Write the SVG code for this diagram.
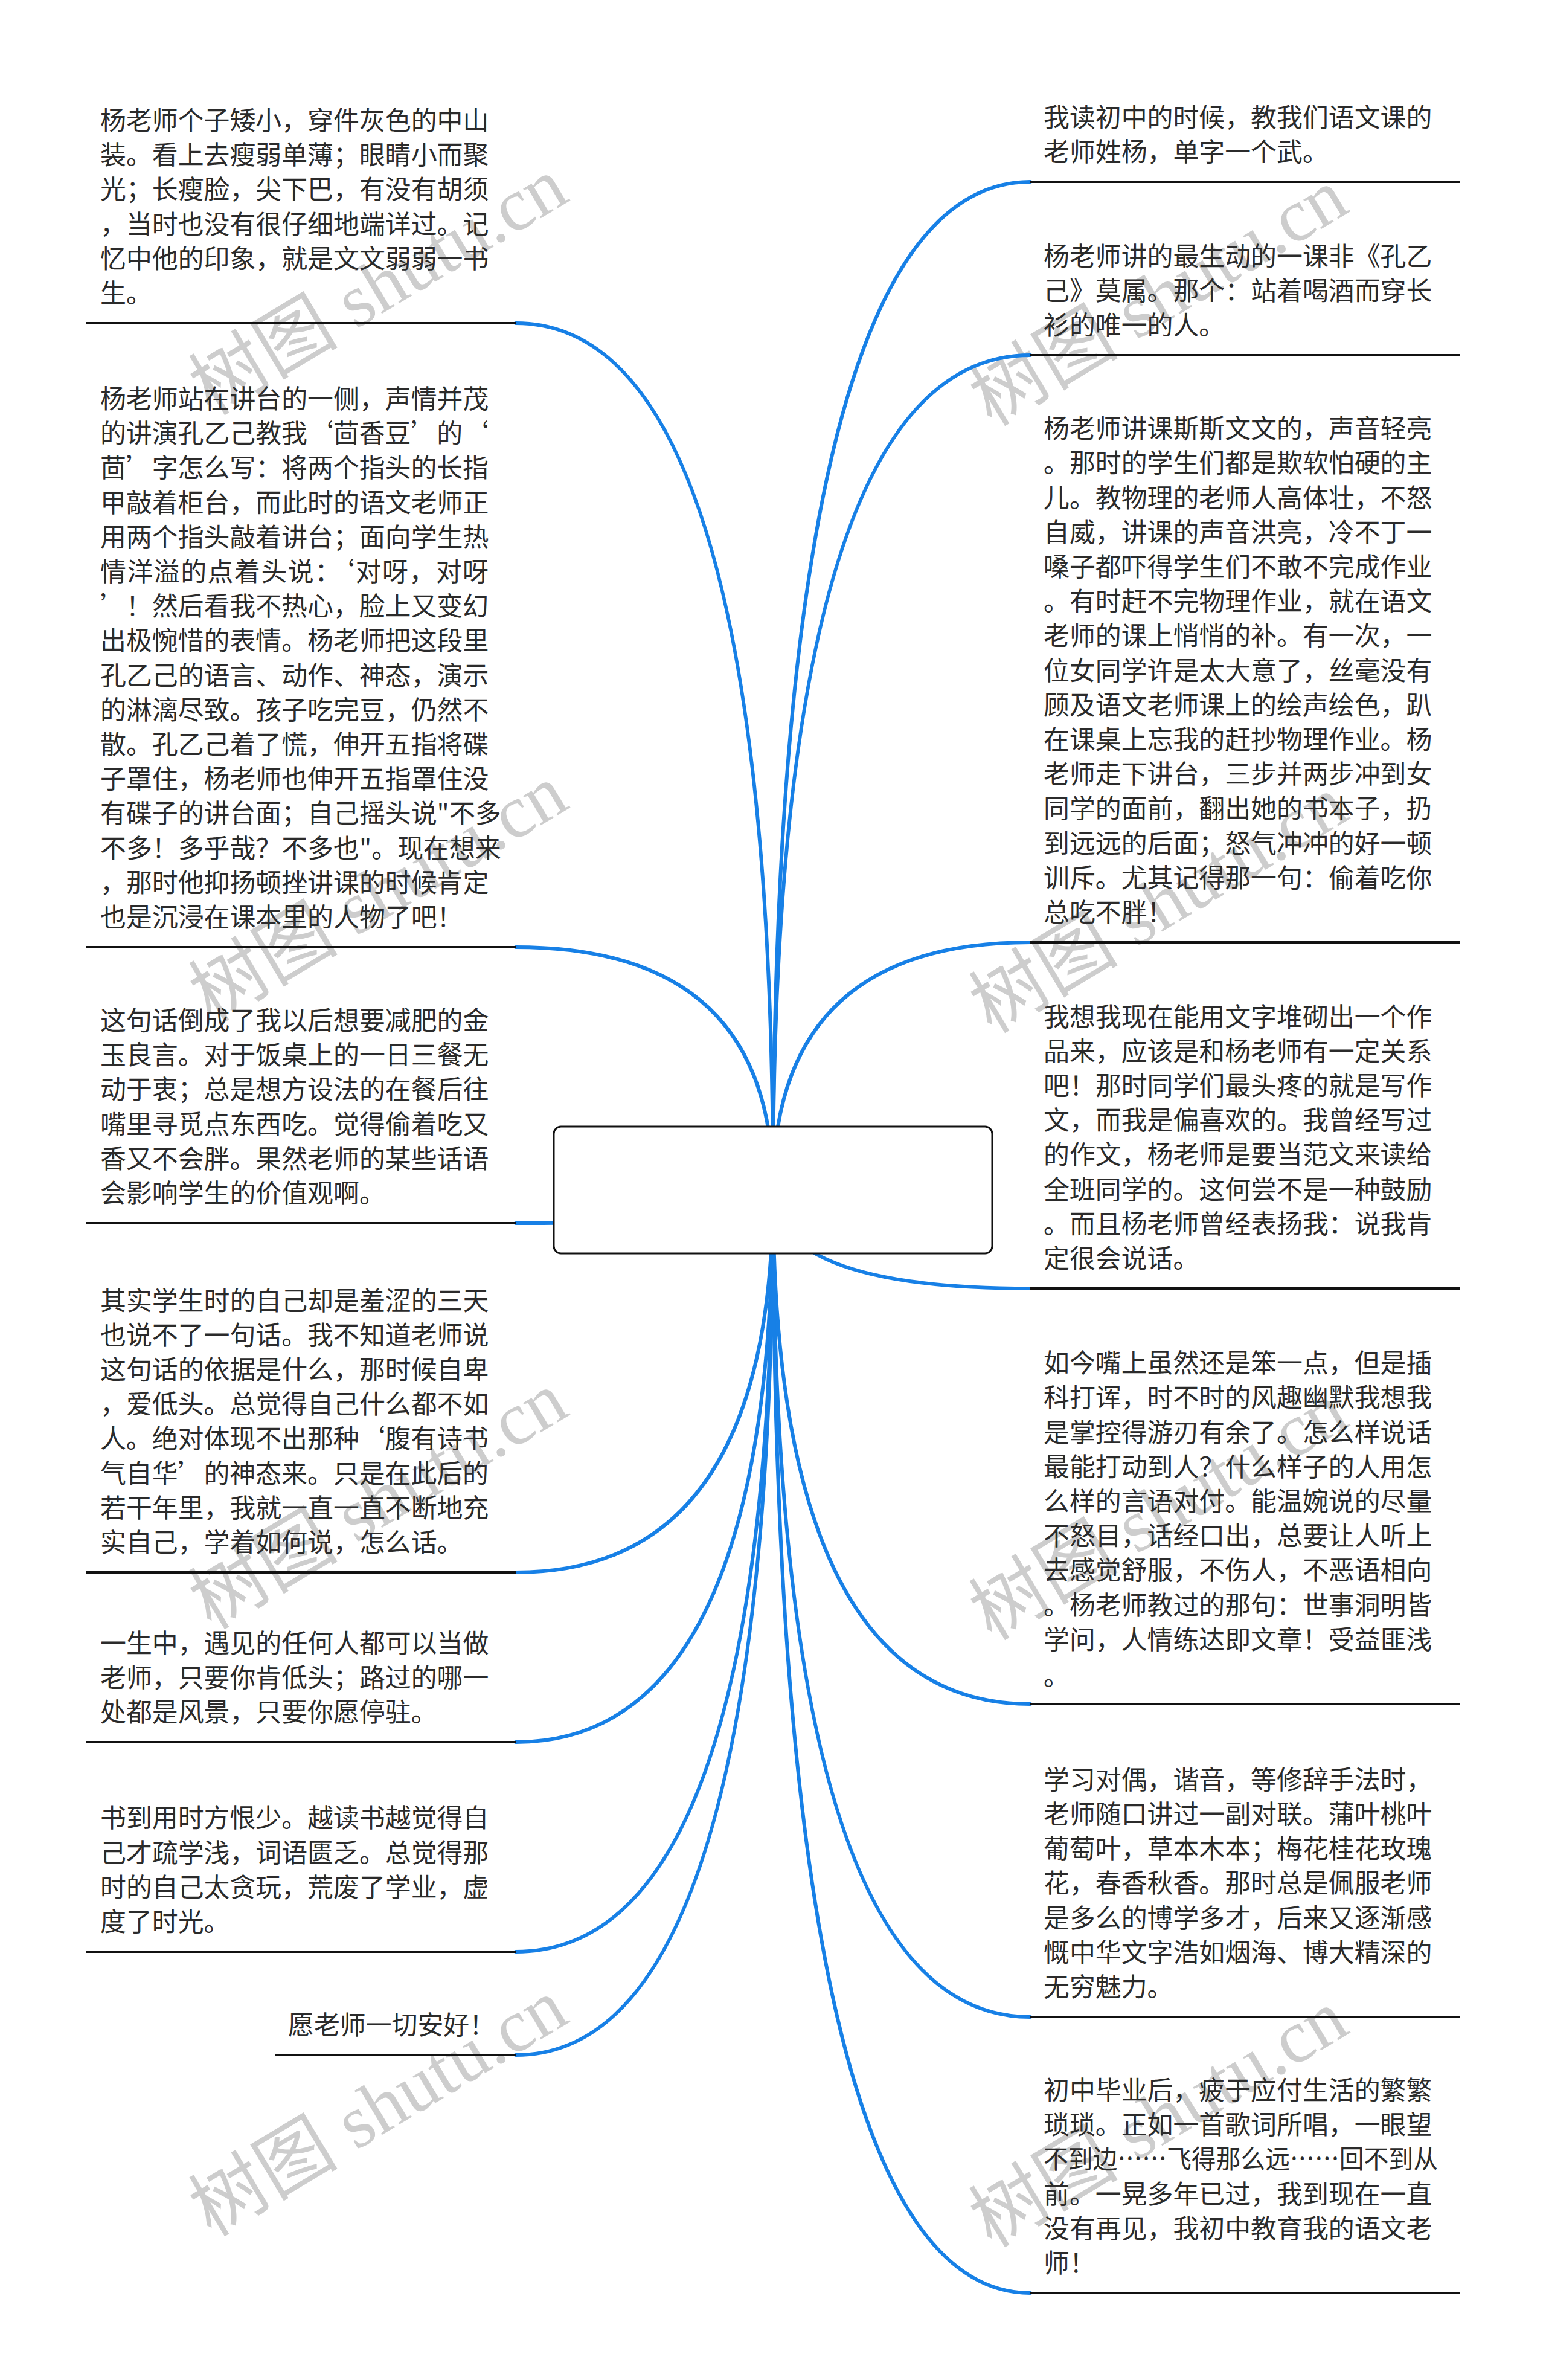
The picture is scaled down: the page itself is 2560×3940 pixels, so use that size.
<svg xmlns="http://www.w3.org/2000/svg" width="2560" height="3940" viewBox="0 0 2560 3940">
<style>
.t{font-family:"Noto Sans CJK SC","Noto Sans",sans-serif;font-size:42.9px;fill:#2b2b2b}
.wm{font-family:"Liberation Serif","Noto Sans CJK SC",serif;font-size:124px;fill:#cdcdcd}
.c{fill:none;stroke:#1780e6;stroke-width:6;stroke-linecap:round}
.u{stroke:#111;stroke-width:4}
</style>
<rect width="2560" height="3940" fill="#ffffff"/>
<g id="watermarks">
<text class="wm" transform="translate(648,510) rotate(-31)" text-anchor="middle">树图 shutu.cn</text>
<text class="wm" transform="translate(648,1515) rotate(-31)" text-anchor="middle">树图 shutu.cn</text>
<text class="wm" transform="translate(648,2520) rotate(-31)" text-anchor="middle">树图 shutu.cn</text>
<text class="wm" transform="translate(648,3525) rotate(-31)" text-anchor="middle">树图 shutu.cn</text>
<text class="wm" transform="translate(1940,528) rotate(-31)" text-anchor="middle">树图 shutu.cn</text>
<text class="wm" transform="translate(1940,1533) rotate(-31)" text-anchor="middle">树图 shutu.cn</text>
<text class="wm" transform="translate(1940,2538) rotate(-31)" text-anchor="middle">树图 shutu.cn</text>
<text class="wm" transform="translate(1940,3543) rotate(-31)" text-anchor="middle">树图 shutu.cn</text>
</g>
<g id="connectors">
<path class="c" d="M1280 1970 Q1280 535 854 535"/>
<path class="c" d="M1280 1970 Q1280 1568 854 1568"/>
<path class="c" d="M1280 1970 Q1280 2025 854 2025"/>
<path class="c" d="M1280 1970 Q1280 2603 854 2603"/>
<path class="c" d="M1280 1970 Q1280 2884 854 2884"/>
<path class="c" d="M1280 1970 Q1280 3231 854 3231"/>
<path class="c" d="M1280 1970 Q1280 3402 854 3402"/>
<path class="c" d="M1280 1970 Q1280 301 1706 301"/>
<path class="c" d="M1280 1970 Q1280 588 1706 588"/>
<path class="c" d="M1280 1970 Q1280 1560 1706 1560"/>
<path class="c" d="M1280 1970 Q1280 2133 1706 2133"/>
<path class="c" d="M1280 1970 Q1280 2821 1706 2821"/>
<path class="c" d="M1280 1970 Q1280 3339 1706 3339"/>
<path class="c" d="M1280 1970 Q1280 3796 1706 3796"/>
</g>
<g id="root">
<rect x="917" y="1865" width="726" height="210" rx="12" fill="#ffffff" stroke="#111" stroke-width="3"/>
</g>
<g id="n1">
<line class="u" x1="143" y1="535" x2="854" y2="535"/>
<text class="t"><tspan x="166" y="215">杨老师个子矮小，穿件灰色的中山</tspan><tspan x="166" y="272">装。看上去瘦弱单薄；眼睛小而聚</tspan><tspan x="166" y="329">光；长瘦脸，尖下巴，有没有胡须</tspan><tspan x="166" y="387">，当时也没有很仔细地端详过。记</tspan><tspan x="166" y="444">忆中他的印象，就是文文弱弱一书</tspan><tspan x="166" y="501">生。</tspan></text>
</g>
<g id="n2">
<line class="u" x1="143" y1="1568" x2="854" y2="1568"/>
<text class="t"><tspan x="166" y="676">杨老师站在讲台的一侧，声情并茂</tspan><tspan x="166" y="733" textLength="643" lengthAdjust="spacing">的讲演孔乙己教我‘茴香豆’的‘</tspan><tspan x="166" y="790" textLength="643" lengthAdjust="spacing">茴’字怎么写：将两个指头的长指</tspan><tspan x="166" y="848">甲敲着柜台，而此时的语文老师正</tspan><tspan x="166" y="905">用两个指头敲着讲台；面向学生热</tspan><tspan x="166" y="962" textLength="643" lengthAdjust="spacing">情洋溢的点着头说：‘对呀，对呀</tspan><tspan x="166" y="1019" textLength="643" lengthAdjust="spacing">’！然后看我不热心，脸上又变幻</tspan><tspan x="166" y="1076">出极惋惜的表情。杨老师把这段里</tspan><tspan x="166" y="1134">孔乙己的语言、动作、神态，演示</tspan><tspan x="166" y="1191">的淋漓尽致。孩子吃完豆，仍然不</tspan><tspan x="166" y="1248">散。孔乙己着了慌，伸开五指将碟</tspan><tspan x="166" y="1305">子罩住，杨老师也伸开五指罩住没</tspan><tspan x="166" y="1362">有碟子的讲台面；自己摇头说"不多</tspan><tspan x="166" y="1420">不多！多乎哉？不多也"。现在想来</tspan><tspan x="166" y="1477">，那时他抑扬顿挫讲课的时候肯定</tspan><tspan x="166" y="1534">也是沉浸在课本里的人物了吧！</tspan></text>
</g>
<g id="n3">
<line class="u" x1="143" y1="2025" x2="854" y2="2025"/>
<text class="t"><tspan x="166" y="1705">这句话倒成了我以后想要减肥的金</tspan><tspan x="166" y="1762">玉良言。对于饭桌上的一日三餐无</tspan><tspan x="166" y="1819">动于衷；总是想方设法的在餐后往</tspan><tspan x="166" y="1877">嘴里寻觅点东西吃。觉得偷着吃又</tspan><tspan x="166" y="1934">香又不会胖。果然老师的某些话语</tspan><tspan x="166" y="1991">会影响学生的价值观啊。</tspan></text>
</g>
<g id="n4">
<line class="u" x1="143" y1="2603" x2="854" y2="2603"/>
<text class="t"><tspan x="166" y="2169">其实学生时的自己却是羞涩的三天</tspan><tspan x="166" y="2226">也说不了一句话。我不知道老师说</tspan><tspan x="166" y="2283">这句话的依据是什么，那时候自卑</tspan><tspan x="166" y="2340">，爱低头。总觉得自己什么都不如</tspan><tspan x="166" y="2397" textLength="643" lengthAdjust="spacing">人。绝对体现不出那种‘腹有诗书</tspan><tspan x="166" y="2455" textLength="643" lengthAdjust="spacing">气自华’的神态来。只是在此后的</tspan><tspan x="166" y="2512">若干年里，我就一直一直不断地充</tspan><tspan x="166" y="2569">实自己，学着如何说，怎么话。</tspan></text>
</g>
<g id="n5">
<line class="u" x1="143" y1="2884" x2="854" y2="2884"/>
<text class="t"><tspan x="166" y="2736">一生中，遇见的任何人都可以当做</tspan><tspan x="166" y="2793">老师，只要你肯低头；路过的哪一</tspan><tspan x="166" y="2850">处都是风景，只要你愿停驻。</tspan></text>
</g>
<g id="n6">
<line class="u" x1="143" y1="3231" x2="854" y2="3231"/>
<text class="t"><tspan x="166" y="3025">书到用时方恨少。越读书越觉得自</tspan><tspan x="166" y="3083">己才疏学浅，词语匮乏。总觉得那</tspan><tspan x="166" y="3140">时的自己太贪玩，荒废了学业，虚</tspan><tspan x="166" y="3197">度了时光。</tspan></text>
</g>
<g id="n7">
<line class="u" x1="455" y1="3402" x2="854" y2="3402"/>
<text class="t" x="477" y="3368">愿老师一切安好！</text>
</g>
<g id="r1">
<line class="u" x1="1706" y1="301" x2="2417" y2="301"/>
<text class="t"><tspan x="1728" y="210">我读初中的时候，教我们语文课的</tspan><tspan x="1728" y="267">老师姓杨，单字一个武。</tspan></text>
</g>
<g id="r2">
<line class="u" x1="1706" y1="588" x2="2417" y2="588"/>
<text class="t"><tspan x="1728" y="440">杨老师讲的最生动的一课非《孔乙</tspan><tspan x="1728" y="497">己》莫属。那个：站着喝酒而穿长</tspan><tspan x="1728" y="554">衫的唯一的人。</tspan></text>
</g>
<g id="r3">
<line class="u" x1="1706" y1="1560" x2="2417" y2="1560"/>
<text class="t"><tspan x="1728" y="725">杨老师讲课斯斯文文的，声音轻亮</tspan><tspan x="1728" y="782">。那时的学生们都是欺软怕硬的主</tspan><tspan x="1728" y="840">儿。教物理的老师人高体壮，不怒</tspan><tspan x="1728" y="897">自威，讲课的声音洪亮，冷不丁一</tspan><tspan x="1728" y="954">嗓子都吓得学生们不敢不完成作业</tspan><tspan x="1728" y="1011">。有时赶不完物理作业，就在语文</tspan><tspan x="1728" y="1068">老师的课上悄悄的补。有一次，一</tspan><tspan x="1728" y="1126">位女同学许是太大意了，丝毫没有</tspan><tspan x="1728" y="1183">顾及语文老师课上的绘声绘色，趴</tspan><tspan x="1728" y="1240">在课桌上忘我的赶抄物理作业。杨</tspan><tspan x="1728" y="1297">老师走下讲台，三步并两步冲到女</tspan><tspan x="1728" y="1354">同学的面前，翻出她的书本子，扔</tspan><tspan x="1728" y="1412">到远远的后面；怒气冲冲的好一顿</tspan><tspan x="1728" y="1469">训斥。尤其记得那一句：偷着吃你</tspan><tspan x="1728" y="1526">总吃不胖！</tspan></text>
</g>
<g id="r4">
<line class="u" x1="1706" y1="2133" x2="2417" y2="2133"/>
<text class="t"><tspan x="1728" y="1699">我想我现在能用文字堆砌出一个作</tspan><tspan x="1728" y="1756">品来，应该是和杨老师有一定关系</tspan><tspan x="1728" y="1813">吧！那时同学们最头疼的就是写作</tspan><tspan x="1728" y="1870">文，而我是偏喜欢的。我曾经写过</tspan><tspan x="1728" y="1927">的作文，杨老师是要当范文来读给</tspan><tspan x="1728" y="1985">全班同学的。这何尝不是一种鼓励</tspan><tspan x="1728" y="2042">。而且杨老师曾经表扬我：说我肯</tspan><tspan x="1728" y="2099">定很会说话。</tspan></text>
</g>
<g id="r5">
<line class="u" x1="1706" y1="2821" x2="2417" y2="2821"/>
<text class="t"><tspan x="1728" y="2272">如今嘴上虽然还是笨一点，但是插</tspan><tspan x="1728" y="2329">科打诨，时不时的风趣幽默我想我</tspan><tspan x="1728" y="2387">是掌控得游刃有余了。怎么样说话</tspan><tspan x="1728" y="2444">最能打动到人？什么样子的人用怎</tspan><tspan x="1728" y="2501">么样的言语对付。能温婉说的尽量</tspan><tspan x="1728" y="2558">不怒目，话经口出，总要让人听上</tspan><tspan x="1728" y="2615">去感觉舒服，不伤人，不恶语相向</tspan><tspan x="1728" y="2673">。杨老师教过的那句：世事洞明皆</tspan><tspan x="1728" y="2730">学问，人情练达即文章！受益匪浅</tspan><tspan x="1728" y="2790">。</tspan></text>
</g>
<g id="r6">
<line class="u" x1="1706" y1="3339" x2="2417" y2="3339"/>
<text class="t"><tspan x="1728" y="2962">学习对偶，谐音，等修辞手法时，</tspan><tspan x="1728" y="3019">老师随口讲过一副对联。蒲叶桃叶</tspan><tspan x="1728" y="3076">葡萄叶，草本木本；梅花桂花玫瑰</tspan><tspan x="1728" y="3133">花，春香秋香。那时总是佩服老师</tspan><tspan x="1728" y="3191">是多么的博学多才，后来又逐渐感</tspan><tspan x="1728" y="3248">慨中华文字浩如烟海、博大精深的</tspan><tspan x="1728" y="3305">无穷魅力。</tspan></text>
</g>
<g id="r7">
<line class="u" x1="1706" y1="3796" x2="2417" y2="3796"/>
<text class="t"><tspan x="1728" y="3476">初中毕业后，疲于应付生活的繁繁</tspan><tspan x="1728" y="3533">琐琐。正如一首歌词所唱，一眼望</tspan><tspan x="1728" y="3590" textLength="653" lengthAdjust="spacingAndGlyphs">不到边……飞得那么远……回不到从</tspan><tspan x="1728" y="3648">前。一晃多年已过，我到现在一直</tspan><tspan x="1728" y="3705">没有再见，我初中教育我的语文老</tspan><tspan x="1728" y="3762">师！</tspan></text>
</g>
</svg>
